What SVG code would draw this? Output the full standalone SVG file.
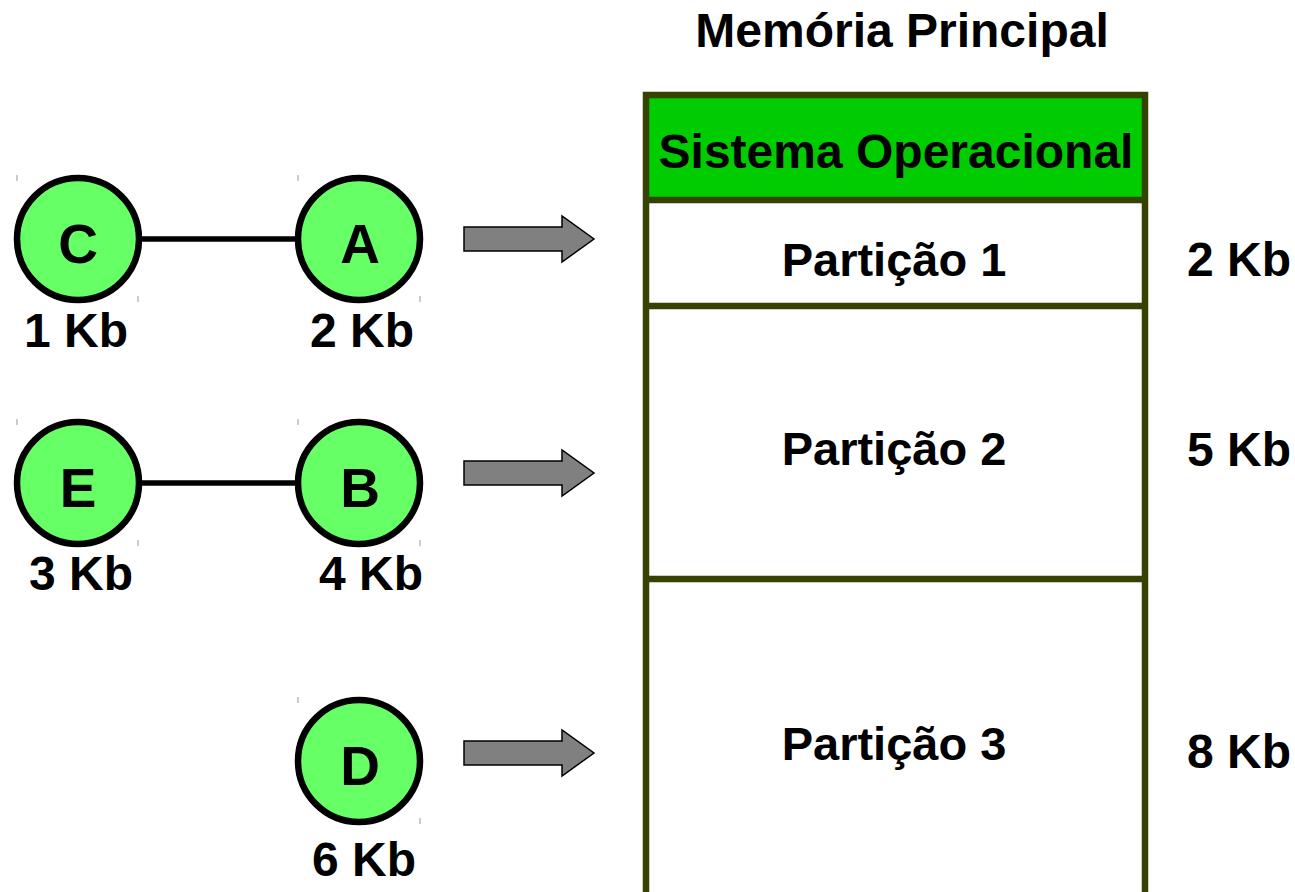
<svg xmlns="http://www.w3.org/2000/svg" width="1295" height="892" viewBox="0 0 1295 892">
<style>
.t{font-family:"Liberation Sans",Arial,sans-serif;font-weight:bold;fill:#000}
.l{font-size:48px}
.p{font-size:47px}
.n{font-size:55px;text-anchor:middle}
.c{text-anchor:middle}
.node{fill:#66ff66;stroke:#000;stroke-width:6.5}
.arr{fill:#808080;stroke:#000;stroke-width:1.5;stroke-linejoin:miter}
.edge{stroke:#000;stroke-width:5.5}
.mem{stroke:#354200;stroke-width:6.5}
.tick{stroke:#999;stroke-width:1}
</style>
<rect width="1295" height="892" fill="#fff"/>
<text class="t l c" x="902" y="47">Memória Principal</text>
<g id="connectors">
<line class="edge" x1="140" y1="239" x2="298" y2="239"/>
<line class="edge" x1="140" y1="483" x2="298" y2="483"/>
<path class="arr" d="M464,227 H562 V216 L594,239 L562,262 V251 H464 Z"/>
<path class="arr" d="M464,461 H562 V450 L594,473 L562,496 V485 H464 Z"/>
<path class="arr" d="M464,741 H562 V730 L594,753 L562,776 V765 H464 Z"/>
</g>
<g id="ticks">
<line class="tick" x1="17" y1="175" x2="17" y2="181"/><line class="tick" x1="138" y1="296" x2="138" y2="302"/>
<line class="tick" x1="298" y1="175" x2="298" y2="181"/><line class="tick" x1="420" y1="296" x2="420" y2="302"/>
<line class="tick" x1="17" y1="419" x2="17" y2="425"/><line class="tick" x1="138" y1="540" x2="138" y2="546"/>
<line class="tick" x1="298" y1="419" x2="298" y2="425"/><line class="tick" x1="420" y1="540" x2="420" y2="546"/>
<line class="tick" x1="298" y1="697" x2="298" y2="703"/><line class="tick" x1="420" y1="818" x2="420" y2="824"/>
</g>
<g id="node-C"><circle class="node" cx="78" cy="239" r="61"/><text class="t n" x="78" y="263">C</text><text class="t l" x="24" y="347">1 Kb</text></g>
<g id="node-A"><circle class="node" cx="359" cy="239" r="61"/><text class="t n" x="360" y="263">A</text><text class="t l" x="310" y="347">2 Kb</text></g>
<g id="node-E"><circle class="node" cx="78" cy="483" r="61"/><text class="t n" x="78" y="507">E</text><text class="t l" x="29" y="590">3 Kb</text></g>
<g id="node-B"><circle class="node" cx="359" cy="483" r="61"/><text class="t n" x="360" y="507">B</text><text class="t l" x="319" y="590">4 Kb</text></g>
<g id="node-D"><circle class="node" cx="359" cy="761" r="61"/><text class="t n" x="360" y="785">D</text><text class="t l" x="312" y="876">6 Kb</text></g>
<g id="memory">
<rect x="646" y="95" width="499" height="105" fill="#00cc00"/>
<path class="mem" fill="none" d="M646,900 V95 H1145 V900 M646,200 H1145 M646,306 H1145 M646,579 H1145"/>
<text class="t l c" x="896" y="168">Sistema Operacional</text>
<text class="t p c" x="894" y="276">Partição 1</text>
<text class="t p c" x="894" y="465">Partição 2</text>
<text class="t p c" x="894" y="760">Partição 3</text>
</g>
<g id="sizes">
<text class="t l" x="1187" y="276">2 Kb</text>
<text class="t l" x="1187" y="466">5 Kb</text>
<text class="t l" x="1187" y="768">8 Kb</text>
</g>
</svg>
